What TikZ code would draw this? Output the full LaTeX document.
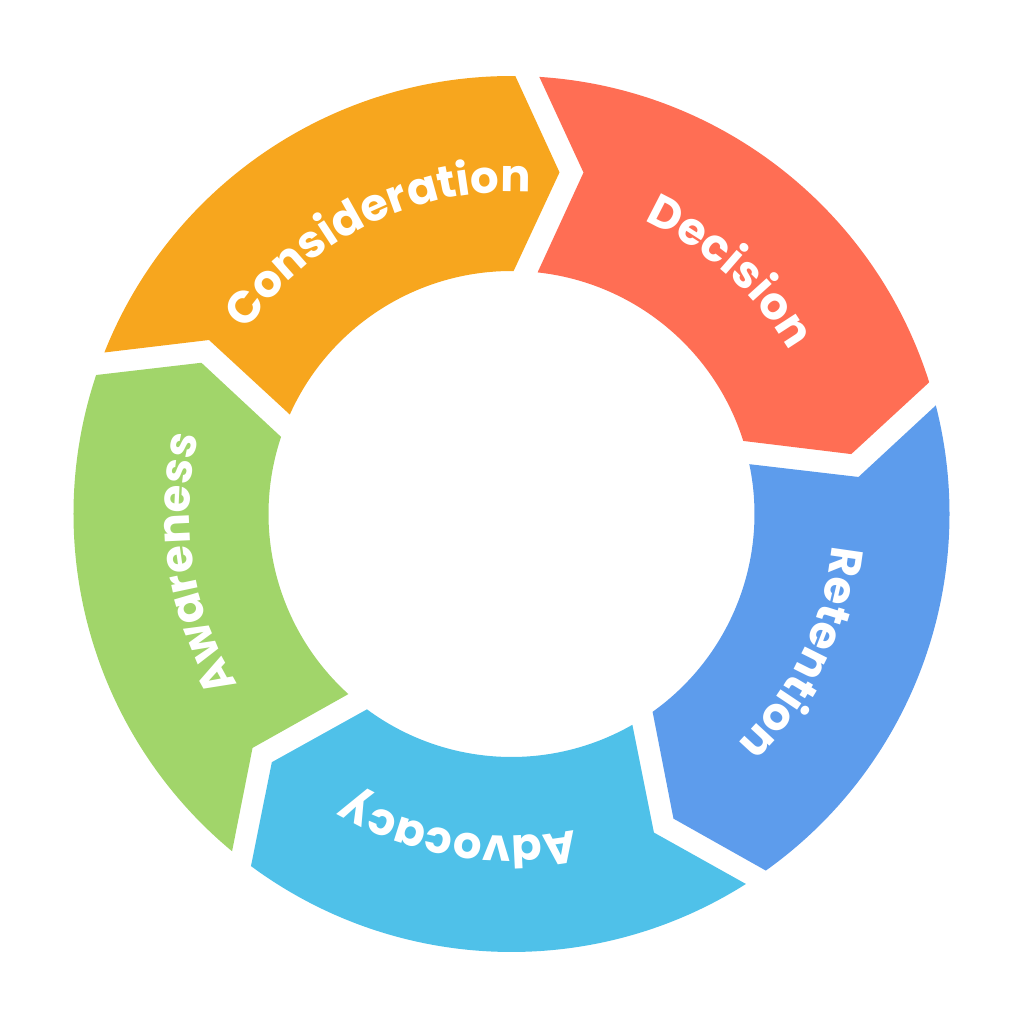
\documentclass[tikz,border=0pt]{standalone}
\usepackage{fontspec}
\newfontfamily\pop{Poppins}
\usetikzlibrary{calc,decorations.text}
\definecolor{cOrange}{RGB}{247,166,30}
\definecolor{cCoral}{RGB}{255,110,84}
\definecolor{cBlue}{RGB}{93,156,236}
\definecolor{cAqua}{RGB}{79,193,233}
\definecolor{cGreen}{RGB}{161,213,106}
\newcommand\lbl[2]{\path[decorate,decoration={text along path,text align=center,
  text={|\pop\bfseries\fontsize{45}{45}\selectfont\color{white}|#2}}]
  (#1+60:\Rt) arc[start angle=#1+60,end angle=#1-60,radius=\Rt];}
\begin{document}
\begin{tikzpicture}[x=1pt,y=1pt]
\useasboundingbox (-511.5,-510) rectangle (512.5,514);
\def\Ro{438}\def\Ri{243}\def\Rm{345}\def\Rt{322}\def\gap{24}\def\tip{7.5}
\pgfmathsetmacro{\ao}{asin(\gap/\Ro)}
\pgfmathsetmacro{\ai}{asin(\gap/\Ri)}
\foreach \s/\col in {161.5/cOrange,89.5/cCoral,17.5/cBlue,-54.5/cAqua,-126.5/cGreen}{
  \pgfmathsetmacro{\e}{\s-72}
  \fill[\col] (\s-\ao:\Ro) arc[start angle=\s-\ao,end angle=\e,radius=\Ro]
    -- (\e-\tip:\Rm) -- (\e:\Ri)
    arc[start angle=\e,end angle=\s-\ai,radius=\Ri]
    -- ($(\s-\tip:\Rm)+(\s-90:\gap)$) -- cycle;
}
\lbl{116}{Consideration}
\lbl{48}{Decision}
\lbl{-25.5}{Retention}
\lbl{-99.5}{Advocacy}
\lbl{189}{Awareness}
\end{tikzpicture}
\end{document}
